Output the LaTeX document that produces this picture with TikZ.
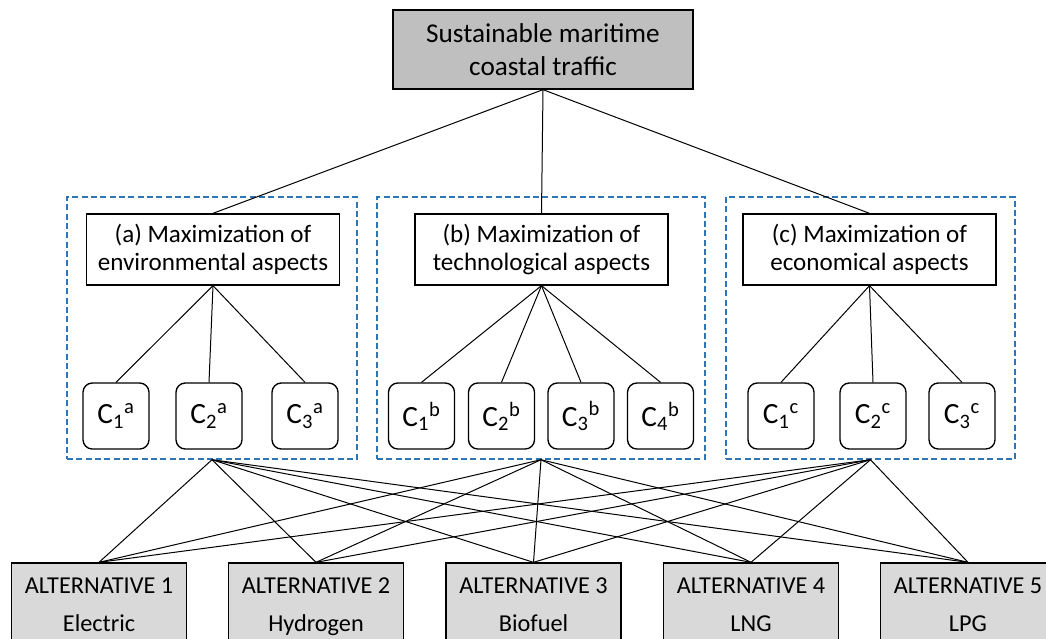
\documentclass[tikz,border=0pt]{standalone}
\usepackage{fontspec}
\setmainfont{Carlito}
\tikzset{every picture/.style={line width=0.75pt}}
\tikzset{
	goalbox/.style={draw, line width=1pt, fill={rgb, 255:red, 191; green, 191; blue, 191 }, minimum width=225pt, minimum height=59.25pt, align=center, font=\fontsize{20.4}{25}\selectfont},
	aspectbox/.style={draw, line width=1pt, fill=white, minimum width=189.75pt, minimum height=53.25pt, align=center, font=\fontsize{18.8}{21}\selectfont},
	critbox/.style={draw, line width=1pt, rounded corners=7pt, fill=white, minimum width=49.5pt, minimum height=49.5pt, font=\fontsize{22}{26}\selectfont},
	altbox/.style={draw, line width=1pt, fill={rgb, 255:red, 217; green, 217; blue, 217 }, minimum width=131.25pt, minimum height=69pt, align=center, text height=41pt, text depth=7pt, font=\fontsize{18.2}{29}\selectfont},
	groupframe/.style={draw={rgb, 255:red, 46; green, 117; blue, 182 }, line width=1.1pt, dash pattern=on 4.5pt off 2.5pt, minimum height=196.5pt},
	link/.style={line width=0.75pt}}

\begin{document}
\begin{tikzpicture}[x=0.75pt,y=0.75pt,yscale=-1,xscale=1]
	\useasboundingbox (0,0) rectangle (1046,639);
	\clip (0,0) rectangle (1046,639);

	%Shape: Dashed frames
	\node [groupframe, minimum width=217.5pt] (framea) at (212,328) {};
	\node [groupframe, minimum width=246pt] (frameb) at (541,328) {};
	\node [groupframe, minimum width=216.75pt] (framec) at (870.5,328) {};

	% Goal
	\node [goalbox] (goal) at (543,49.5) {Sustainable maritime\\coastal traffic};

	% Aspects
	\node [aspectbox] (aspa) at (213,249.5) {(a) Maximization of\\environmental aspects};
	\node [aspectbox] (aspb) at (541.5,249.5) {(b) Maximization of\\technological aspects};
	\node [aspectbox] (aspc) at (869.5,249.5) {(c) Maximization of\\economical aspects};

	% Criteria
	\node [critbox] (c1a) at (116,416) {C\textsubscript{1}\textsuperscript{a}};
	\node [critbox] (c2a) at (209,416) {C\textsubscript{2}\textsuperscript{a}};
	\node [critbox] (c3a) at (305,416) {C\textsubscript{3}\textsuperscript{a}};
	\node [critbox] (c1b) at (421.5,416) {C\textsubscript{1}\textsuperscript{b}};
	\node [critbox] (c2b) at (501.5,416) {C\textsubscript{2}\textsuperscript{b}};
	\node [critbox] (c3b) at (581,416) {C\textsubscript{3}\textsuperscript{b}};
	\node [critbox] (c4b) at (660.5,416) {C\textsubscript{4}\textsuperscript{b}};
	\node [critbox] (c1c) at (781,416) {C\textsubscript{1}\textsuperscript{c}};
	\node [critbox] (c2c) at (873,416) {C\textsubscript{2}\textsuperscript{c}};
	\node [critbox] (c3c) at (962,416) {C\textsubscript{3}\textsuperscript{c}};

	% Alternatives
	\node [altbox] (alt1) at (99,609) {ALTERNATIVE 1\\Electric};
	\node [altbox] (alt2) at (316,609) {ALTERNATIVE 2\\Hydrogen};
	\node [altbox] (alt3) at (533.5,609) {ALTERNATIVE 3\\Biofuel};
	\node [altbox] (alt4) at (751,609) {ALTERNATIVE 4\\LNG};
	\node [altbox] (alt5) at (968,609) {ALTERNATIVE 5\\LPG};

	%Straight Lines: goal to aspects
	\foreach \a in {aspa,aspb,aspc}
		\draw [link] (goal.south) -- (\a.north);
	%Straight Lines: aspects to criteria
	\foreach \c in {c1a,c2a,c3a}
		\draw [link] (aspa.south) -- (\c.north);
	\foreach \c in {c1b,c2b,c3b,c4b}
		\draw [link] (aspb.south) -- (\c.north);
	\foreach \c in {c1c,c2c,c3c}
		\draw [link] (aspc.south) -- (\c.north);
	%Straight Lines: frames to alternatives
	\foreach \f in {framea,frameb,framec}
		\foreach \k in {1,...,5}
			\draw [link] (\f.south) -- (alt\k.north);

\end{tikzpicture}
\end{document}
